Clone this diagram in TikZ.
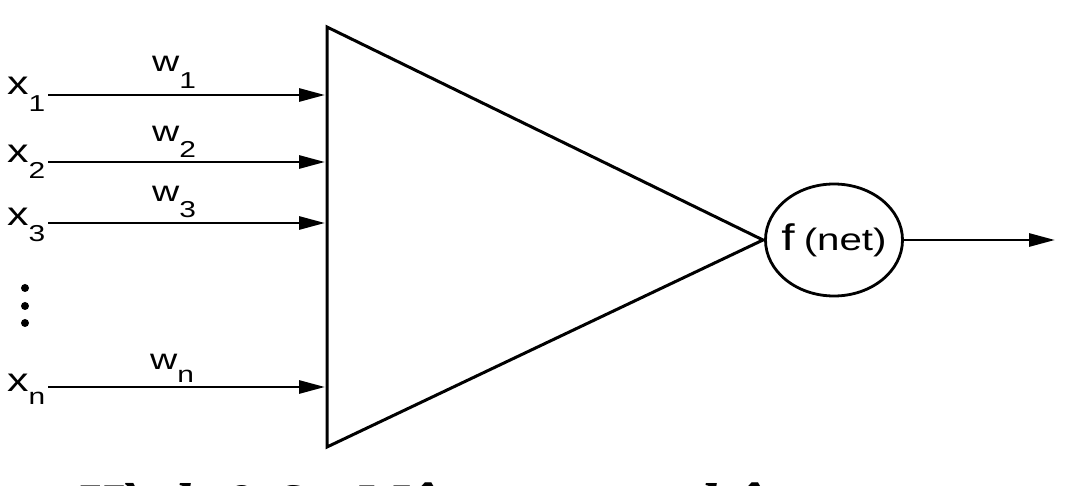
\documentclass[tikz,border=0pt]{standalone}
\usepackage{fontspec}
\setmainfont{Liberation Serif}
\newfontfamily\lblfont[FakeStretch=1.3]{Liberation Sans}
\usetikzlibrary{arrows.meta,shapes.geometric}
\newcommand\mysub[2]{\raisebox{-#1pt}{\fontsize{23}{23}\selectfont #2}}
\begin{document}
\begin{tikzpicture}[x=1pt,y=-1pt,
  wire/.style={line width=2.9pt,-{Triangle[length=26pt,width=13pt]}},
  xlab/.style={anchor=base west,inner sep=0pt,font=\lblfont\fontsize{33}{33}\selectfont},
  wlab/.style={anchor=base west,inner sep=0pt,font=\lblfont\fontsize{29}{29}\selectfont},
  body/.style={line width=3pt,line join=miter},
  fnode/.style={ellipse,draw,line width=2.8pt,minimum width=137pt,minimum height=112pt,inner xsep=-8pt,inner ysep=0pt,font=\lblfont},
  captext/.style={anchor=base west,inner sep=0pt,font=\bfseries\itshape\fontsize{62}{62}\selectfont}]
\useasboundingbox (0,0) rectangle (1080,486);
\fill[white] (0,0) rectangle (1080,486);

% triangle (summing body)
\coordinate (T1) at (327,27);
\coordinate (T2) at (327,447);
\coordinate (T3) at (763,240);
\draw[body] (T1) -- (T2) -- (T3) -- cycle;

% activation
\node[fnode] (f) at (834,240) {{\fontsize{37}{37}\selectfont f}\hspace{9pt}{\fontsize{31}{31}\selectfont (net)}};
\coordinate (out) at (1055,240);
\draw[wire] (f.east) -- (out);

% input labels
\node[xlab] (x1) at (7,95) {x\mysub{17}{1}};
\node[xlab] (x2) at (7,163) {x\mysub{16}{2}};
\node[xlab] (x3) at (7,226) {x\mysub{16}{3}};
\node[xlab] (xn) at (7,392) {x\mysub{13}{n}};

% weights
\node[wlab] (w1) at (152,72) {w\mysub{17}{1}};
\node[wlab] (w2) at (152,142) {w\mysub{16}{2}};
\node[wlab] (w3) at (152,202) {w\mysub{16}{3}};
\node[wlab] (wn) at (150,370) {w\mysub{13}{n}};

% input arrows
\coordinate (s1) at (48,95);  \coordinate (e1) at (325,95);
\coordinate (s2) at (48,162); \coordinate (e2) at (325,162);
\coordinate (s3) at (48,223); \coordinate (e3) at (325,223);
\coordinate (sn) at (48,387); \coordinate (en) at (325,387);
\draw[wire] (s1) -- (e1);
\draw[wire] (s2) -- (e2);
\draw[wire] (s3) -- (e3);
\draw[wire] (sn) -- (en);

% ellipsis dots
\fill (25,288) circle (4);
\fill (25,306) circle (4);
\fill (25,323) circle (4);

% caption (cut off by the frame, as in the reference)
\node[captext] (cap) at (74,526) {Hình 9.6 - Một nơ-ron nhân tạo};
\end{tikzpicture}
\end{document}
